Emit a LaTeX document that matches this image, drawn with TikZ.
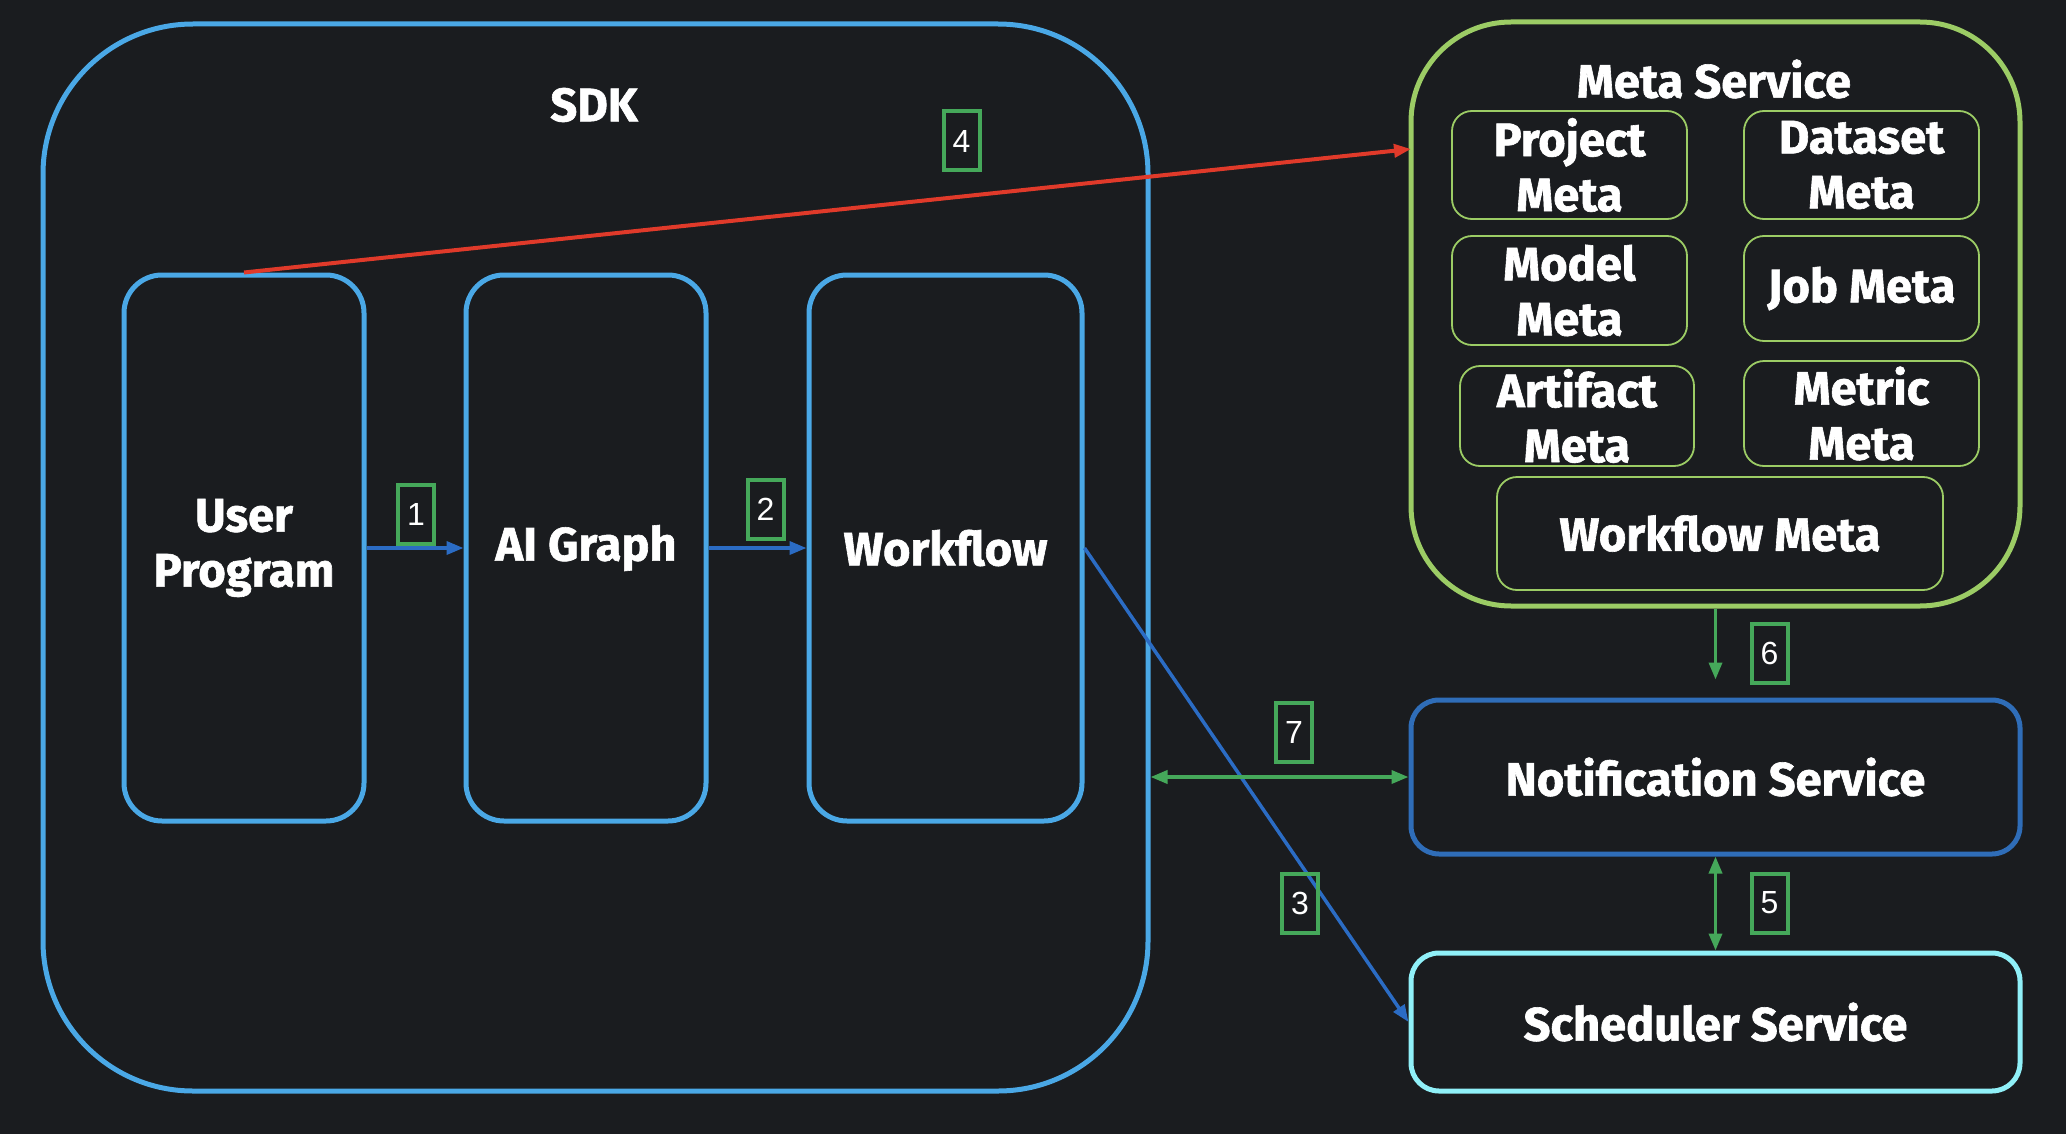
\documentclass[tikz,border=0pt]{standalone}
\usepackage{fontspec}
\setmainfont{Fira Sans}[BoldFeatures={FakeBold=1.3}]
\newfontfamily\numfont{Liberation Sans}
\usetikzlibrary{arrows.meta}
\definecolor{bgc}{HTML}{1A1C1F}
\definecolor{sdkblue}{HTML}{4AA8E6}
\definecolor{lineblue}{HTML}{2B6CC4}
\definecolor{lblgreen}{HTML}{45A85A}
\definecolor{metagreen}{HTML}{9CCC65}
\definecolor{notifblue}{HTML}{2F6DB8}
\definecolor{schedcyan}{HTML}{90F0F8}
\definecolor{redline}{HTML}{E03A2A}
\tikzset{
  x=1pt, y=-1pt,
  bigtxt/.style={text=white, font=\fontsize{47}{55}\selectfont\bfseries, align=center},
  sdkbox/.style={draw=sdkblue, line width=5pt, rounded corners=150pt, inner sep=0pt},
  compbox/.style={draw=sdkblue, line width=5pt, rounded corners=38pt, inner sep=0pt, bigtxt},
  metabox/.style={draw=metagreen, line width=5pt, rounded corners=100pt, inner sep=0pt},
  subbox/.style={draw=metagreen, line width=1.8pt, rounded corners=20pt, inner sep=0pt, bigtxt},
  svcbox/.style={line width=5pt, rounded corners=28pt, inner sep=0pt, bigtxt},
  numlbl/.style={draw=lblgreen, line width=4pt, minimum width=36pt, minimum height=59pt, inner sep=0pt, text=white, font=\numfont\fontsize{32}{32}\selectfont},
  tip/.style={-{Triangle[length=17pt,width=13pt]}},
  bitip/.style={{Triangle[length=17pt,width=13pt]}-{Triangle[length=17pt,width=13pt]}},
}
\begin{document}
\begin{tikzpicture}
\fill[bgc] (0,0) rectangle (2066,1134);
\useasboundingbox (0,0) rectangle (2066,1134);

% SDK
\node[sdkbox, minimum width=1105pt, minimum height=1067pt] (sdk) at (595.5,557.5) {};
\node[bigtxt] (sdkt) at (594,105) {SDK};
\node[compbox, minimum width=240pt, minimum height=546pt] (up) at (244,548) {User\\Program};
\node[compbox, minimum width=240pt, minimum height=546pt] (ai) at (586,548) {AI Graph};
\node[compbox, minimum width=273pt, minimum height=546pt] (wf) at (945.5,548) {Workflow};

% Meta service
\node[metabox, minimum width=609pt, minimum height=584pt] (meta) at (1715.5,314) {};
\node[bigtxt] (metat) at (1714,79) {Meta Service};
\node[subbox, minimum width=235pt, minimum height=108pt] (pm) at (1569.5,165) {Project\\Meta};
\node[subbox, minimum width=235pt, minimum height=108pt] (dm) at (1861.5,165) {Dataset\\Meta};
\node[subbox, minimum width=235pt, minimum height=109pt] (mm) at (1569.5,290.5) {Model\\Meta};
\node[subbox, minimum width=235pt, minimum height=105pt] (jm) at (1861.5,288.5) {Job Meta};
\node[subbox, minimum width=234pt, minimum height=100pt] (am) at (1577,416) {Artifact\\Meta};
\node[subbox, minimum width=235pt, minimum height=105pt] (xm) at (1861.5,413.5) {Metric\\Meta};
\node[subbox, minimum width=446pt, minimum height=113pt] (wm) at (1720,533.5) {Workflow Meta};

% Services
\node[svcbox, draw=notifblue, minimum width=609pt, minimum height=154pt] (notif) at (1715.5,777) {Notification Service};
\node[svcbox, draw=schedcyan, minimum width=609pt, minimum height=138pt] (sched) at (1715.5,1022) {Scheduler Service};

% Connectors
\draw[lineblue, line width=3.5pt, tip] (up.east) -- (ai.west);
\draw[lineblue, line width=3.5pt, tip] (ai.east) -- (wf.west);
\draw[lineblue, line width=3.5pt, tip] (wf.east) -- (sched.west);
\coordinate (redend) at (1411,149);
\draw[redline, line width=4pt, tip] (up.north) -- (redend);
\draw[lblgreen, line width=3.5pt, bitip] (notif.west -| sdk.east) -- (notif.west);
\draw[lblgreen, line width=3.5pt, tip, shorten >=18pt] (meta.south) -- (notif.north);
\draw[lblgreen, line width=3.5pt, bitip] (notif.south) -- (sched.north);

% Number labels
\node[numlbl] (l1) at (416,514) {1};
\node[numlbl] (l2) at (765.5,509.5) {2};
\node[numlbl] (l4) at (961.5,141) {4};
\node[numlbl] (l7) at (1294,732.5) {7};
\node[numlbl] (l3) at (1300,903) {3};
\node[numlbl] (l6) at (1769.5,653) {6};
\node[numlbl] (l5) at (1769.5,903) {5};
\end{tikzpicture}
\end{document}
